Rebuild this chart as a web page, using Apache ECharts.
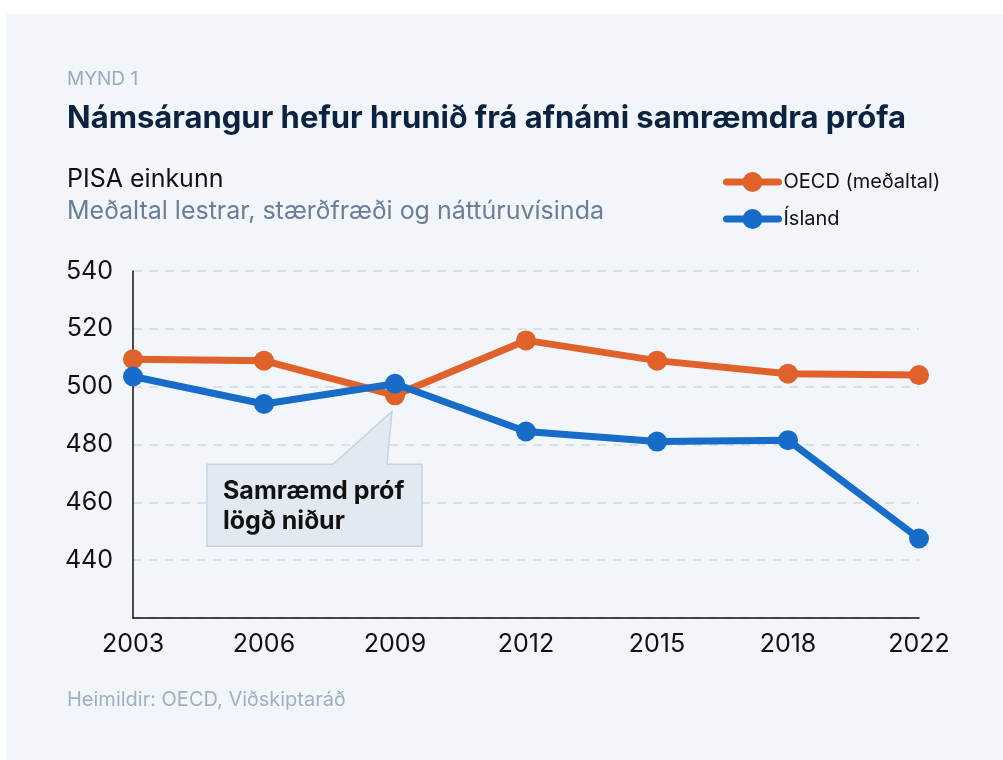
<!DOCTYPE html>
<html><head><meta charset="utf-8">
<script src="https://cdn.jsdelivr.net/npm/echarts@6/dist/echarts.min.js"></script>
<style>
html,body{margin:0;padding:0;background:#ffffff;}
#card{position:absolute;left:6px;top:14px;right:0;bottom:0;background:#f2f6fb;}
#c{position:absolute;left:0;top:0;width:1003px;height:760px;}
</style>
</head><body><div id="card"></div><div id="c"></div>
<script>
const categories = ['2003', '2006', '2009', '2012', '2015', '2018', '2022'];
const oecdValues = [509.5, 509, 497, 516, 509, 504.5, 504];
const icelandValues = [503.5, 494, 501, 484.5, 481, 481.5, 447.5];
const seriesNames = ['OECD (meðaltal)', 'Ísland'];
const yMin = 420, yMax = 540, yStep = 20;
const kicker = 'MYND 1';
const titleText = 'Námsárangur hefur hrunið frá afnámi samræmdra prófa';
const unitText = 'PISA einkunn';
const subText = 'Meðaltal lestrar, stærðfræði og náttúruvísinda';
const sourceText = 'Heimildir: OECD, Viðskiptaráð';
const annotationLines = ['Samræmd próf', 'lögð niður'];
const annotationIndex = 2;

const FONT = 'Inter, "Noto Sans", sans-serif';
const ORANGE = '#e0612a';
const BLUE = '#166cc8';

const chart = echarts.init(document.getElementById('c'), null, {renderer: 'canvas'});
chart.setOption({
  backgroundColor: 'transparent',
  animation: false,
  textStyle: {fontFamily: FONT},
  grid: {left: 133, right: 84, top: 271, bottom: 142, containLabel: false},
  legend: {
    orient: 'vertical', left: 718, top: 167,
    itemWidth: 52, itemHeight: 25, itemGap: 17,
    lineStyle: {width: 7, cap: 'round'},
    textStyle: {fontSize: 20, color: '#111111', fontFamily: FONT},
    data: seriesNames
  },
  xAxis: {
    type: 'category', data: categories, boundaryGap: false,
    axisLine: {lineStyle: {color: '#111111', width: 1.5}},
    axisTick: {show: false},
    axisLabel: {color: '#111111', fontSize: 25, margin: 14, fontFamily: FONT},
    splitLine: {show: false}
  },
  yAxis: {
    type: 'value', min: yMin, max: yMax, interval: yStep,
    axisLine: {show: true, lineStyle: {color: '#111111', width: 1.5}},
    axisTick: {show: false},
    axisLabel: {color: '#111111', fontSize: 25, margin: 20, fontFamily: FONT,
      formatter: v => v === yMin ? '' : String(v)},
    splitLine: {lineStyle: {color: '#d0d9e4', width: 1.5, type: [9, 7]}}
  },
  series: [
    {name: seriesNames[0], type: 'line', data: oecdValues, symbol: 'circle', symbolSize: 20,
     lineStyle: {color: ORANGE, width: 7}, itemStyle: {color: ORANGE}, z: 3},
    {name: seriesNames[1], type: 'line', data: icelandValues, symbol: 'circle', symbolSize: 20,
     lineStyle: {color: BLUE, width: 7}, itemStyle: {color: BLUE}, z: 4}
  ]
});

const p = chart.convertToPixel({xAxisIndex: 0, yAxisIndex: 0}, [annotationIndex, oecdValues[annotationIndex]]);
const tipX = p[0] - 3, tipY = p[1] + 16;
const L = tipX - 185, T = tipY + 53, R = tipX + 30, B = tipY + 135;
const bL = tipX - 59, bR = tipX - 5;

chart.setOption({
  graphic: [
    {type: 'text', left: 67, top: 70, style: {text: kicker, font: '400 19px ' + FONT, fill: '#9aabc0'}},
    {type: 'text', left: 67, top: 103, style: {text: titleText, font: '700 31px ' + FONT, fill: '#0c2340'}},
    {type: 'text', left: 67, top: 167, style: {text: unitText, font: '400 25px ' + FONT, fill: '#111111'}},
    {type: 'text', left: 67, top: 199, style: {text: subText, font: '400 25px ' + FONT, fill: '#6b7e97'}},
    {type: 'text', left: 67, top: 690, style: {text: sourceText, font: '400 20px ' + FONT, fill: '#9fb0c5'}},
    {type: 'polygon', z: 1,
     shape: {points: [[L, T], [bL, T], [tipX, tipY], [bR, T], [R, T], [R, B], [L, B]]},
     style: {fill: '#e2e9f1', stroke: '#c8d3de', lineWidth: 1.5}},
    {type: 'text', z: 2, x: L + 16, y: T + 12,
     style: {text: annotationLines.join('\n'), font: '700 25px ' + FONT, lineHeight: 30, fill: '#111111'}}
  ]
});
</script>
</body></html>
